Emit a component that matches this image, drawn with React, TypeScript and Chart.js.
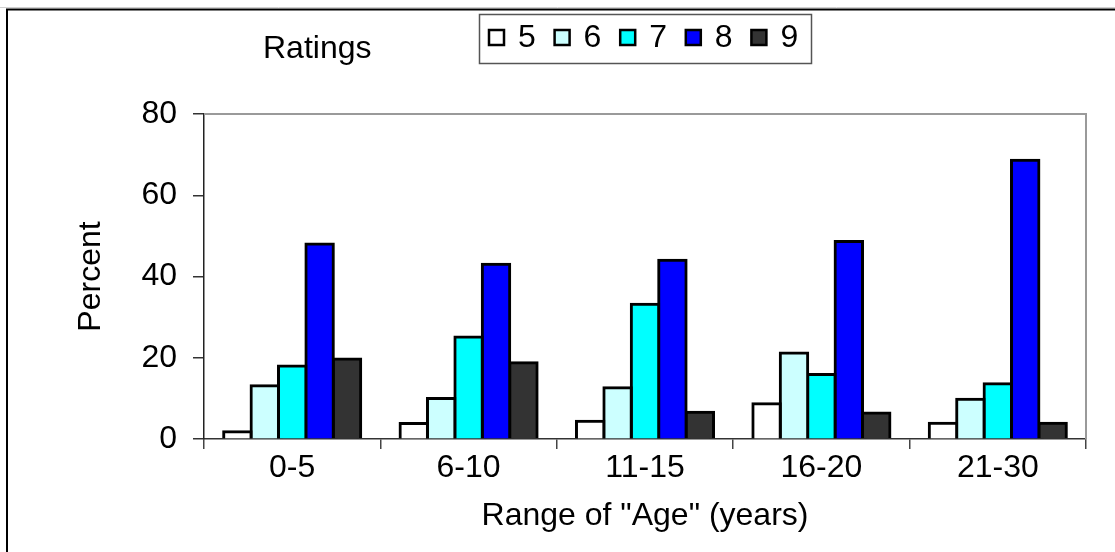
import React, { useEffect, useRef } from 'react';
import { Chart, registerables } from 'chart.js';

Chart.register(...registerables);

const FONT = "'Liberation Sans', Arial, sans-serif";

const categories = ['0-5', '6-10', '11-15', '16-20', '21-30'];
const seriesLabels = ['5', '6', '7', '8', '9'];
const rating5 = [1.8, 3.8, 4.4, 8.7, 3.9];
const rating6 = [13.1, 10.0, 12.6, 21.2, 9.8];
const rating7 = [18.0, 25.1, 33.2, 15.9, 13.6];
const rating8 = [48.0, 43.0, 44.0, 48.6, 68.6];
const rating9 = [19.7, 18.8, 6.6, 6.4, 3.9];
const seriesColors = ['#FFFFFF', '#CCFFFF', '#00FFFF', '#0000FF', '#333333'];
const yMin = 0;
const yMax = 80;
const yStep = 20;
const legendTitle = 'Ratings';
const xTitle = 'Range of "Age" (years)';
const yTitle = 'Percent';

const decorPlugin = {
  id: 'decor',
  afterDraw(chart: any) {
    const ctx = chart.ctx as CanvasRenderingContext2D;
    const a = chart.chartArea;
    ctx.save();
    // plot area top / right border
    ctx.strokeStyle = '#9a9a9a';
    ctx.lineWidth = 2;
    ctx.beginPath();
    ctx.moveTo(a.left, a.top);
    ctx.lineTo(a.right, a.top);
    ctx.lineTo(a.right, a.bottom);
    ctx.stroke();

    // outer frame
    ctx.strokeStyle = '#d0d0d0';
    ctx.lineWidth = 1;
    ctx.beginPath();
    ctx.moveTo(0, 7.5);
    ctx.lineTo(1115, 7.5);
    ctx.stroke();
    ctx.strokeStyle = '#000';
    ctx.lineWidth = 2;
    ctx.beginPath();
    ctx.moveTo(7, 560);
    ctx.lineTo(7, 9.5);
    ctx.lineTo(1120, 9.5);
    ctx.stroke();

    // legend box
    ctx.strokeStyle = '#555';
    ctx.lineWidth = 1.5;
    ctx.strokeRect(479.5, 14.5, 332, 49);

    ctx.fillStyle = '#000';
    ctx.textBaseline = 'middle';
    ctx.textAlign = 'left';
    ctx.font = `32px ${FONT}`;
    ctx.fillText(legendTitle, 263, 49);

    chart.data.datasets.forEach((ds: any, i: number) => {
      const x = 489 + i * 65.6;
      ctx.fillStyle = ds.backgroundColor;
      ctx.fillRect(x, 30, 15, 15);
      ctx.strokeStyle = '#000';
      ctx.lineWidth = 2.5;
      ctx.strokeRect(x, 30, 15, 15);
      ctx.fillStyle = '#000';
      ctx.font = `32px ${FONT}`;
      ctx.fillText(ds.label, x + 29, 38);
    });
    ctx.restore();
  },
};

export default function App() {
  const canvasRef = useRef<HTMLCanvasElement | null>(null);

  useEffect(() => {
    if (!canvasRef.current) return;
    Chart.defaults.font.family = FONT;
    Chart.defaults.color = '#000';
    const seriesValues = [rating5, rating6, rating7, rating8, rating9];
    const chart = new Chart(canvasRef.current, {
      type: 'bar',
      data: {
        labels: categories,
        datasets: seriesLabels.map((lab, i) => ({
          label: lab,
          data: seriesValues[i],
          backgroundColor: seriesColors[i],
          borderColor: '#000',
          borderWidth: 3,
          inflateAmount: 1.5,
          categoryPercentage: 0.777,
          barPercentage: 1,
        })),
      },
      options: {
        responsive: false,
        animation: false,
        layout: { padding: { left: 0, top: 114, right: 29, bottom: 0 } },
        plugins: {
          legend: { display: false },
          tooltip: { enabled: false },
        },
        scales: {
          x: {
            offset: true,
            grid: {
              offset: true,
              drawOnChartArea: false,
              drawTicks: true,
              tickLength: 10,
              color: '#444',
              lineWidth: 1.5,
            },
            border: { display: true, color: '#333', width: 1.5 },
            ticks: { font: { size: 32 }, color: '#000', padding: 0, maxRotation: 0 },
            title: {
              display: true,
              text: xTitle,
              font: { size: 32 },
              color: '#000',
              padding: { top: 0, bottom: 17 },
            },
            afterFit: (s: any) => {
              s.height = 113;
            },
          },
          y: {
            min: yMin,
            max: yMax,
            ticks: { stepSize: yStep, font: { size: 32 }, color: '#000', padding: 16 },
            grid: {
              drawOnChartArea: false,
              drawTicks: true,
              tickLength: 11,
              color: '#333',
              lineWidth: 1.5,
            },
            border: { display: true, color: '#222', width: 1.5 },
            title: {
              display: true,
              text: yTitle,
              font: { size: 32 },
              color: '#000',
              padding: { top: 72, bottom: 0 },
            },
            afterFit: (s: any) => {
              s.width = 204;
            },
          },
        },
      },
      plugins: [decorPlugin],
    } as any);
    return () => chart.destroy();
  }, []);

  return (
    <div style={{ position: 'fixed', left: 0, top: 0, width: 1115, height: 552, background: '#fff' }}>
      <canvas ref={canvasRef} width={1115} height={552} style={{ display: 'block' }} />
    </div>
  );
}
